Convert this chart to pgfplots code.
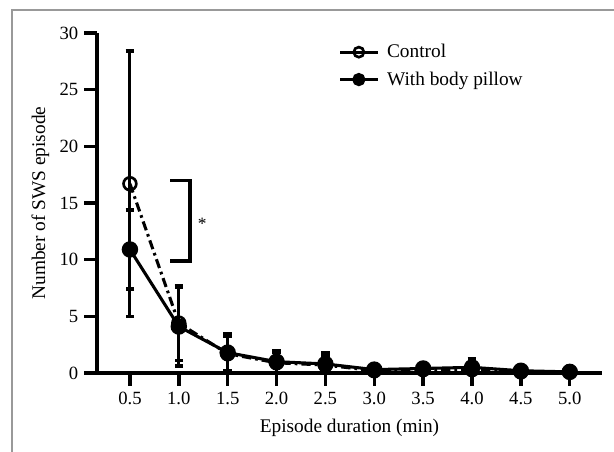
\documentclass[border=0pt]{standalone}
\usepackage{pgfplots}
\pgfplotsset{compat=1.18}
\usepackage{pgfplotstable}
\usepackage{fontspec}
\setmainfont{Liberation Serif}
\pgfplotstableread{
x y ep em
0.5 16.7 11.7 11.7
1.0 4.4 3.3 3.3
1.5 1.7 1.5 1.5
2.0 0.9 0.9 0.9
2.5 0.7 0.8 0.7
3.0 0.2 0.2 0.2
3.5 0.3 0.3 0.3
4.0 0.3 0.4 0.3
4.5 0.1 0.1 0.1
5.0 0.1 0.1 0.1
}\control
\pgfplotstableread{
x y ep em
0.5 10.9 3.5 3.5
1.0 4.1 3.5 3.5
1.5 1.8 1.7 1.7
2.0 1.0 1.0 1.0
2.5 0.8 1.0 0.8
3.0 0.3 0.3 0.3
3.5 0.4 0.3 0.4
4.0 0.5 0.8 0.5
4.5 0.2 0.1 0.2
5.0 0.1 0.1 0.1
}\pillow
\begin{document}
\begin{tikzpicture}
\useasboundingbox (-72.75pt,-58.5pt) rectangle (387.75pt,279.75pt);
\draw[gray!80, line width=1pt] (-63.75pt,-60pt) -- (-63.75pt,272.25pt) -- (390pt,272.25pt);
\begin{axis}[
  at={(0pt,0pt)}, anchor=south west,
  scale only axis, width=378.75pt, height=255pt,
  xmin=0.163, xmax=5.33, ymin=0, ymax=30,
  axis lines*=left,
  axis line style={line width=2.8pt, black},
  xtick={0.5,1,1.5,2,2.5,3,3.5,4,4.5,5},
  ytick={0,5,10,15,20,25,30},
  xticklabel style={yshift=-1pt, /pgf/number format/.cd, fixed, fixed zerofill, precision=1},
  /pgf/number format/assume math mode=true,
  tick align=outside, major tick length=9.5pt,
  tick style={line width=2.6pt, black},
  tick label style={font=\fontsize{14}{16}\selectfont},
  label style={font=\fontsize{14.5}{16}\selectfont},
  yticklabel style={xshift=-1pt},
  xlabel={Episode duration (min)},
  ylabel={Number of SWS episode},
  xlabel style={yshift=-4pt},
  ylabel style={yshift=1pt},
  clip=false,
  legend style={at={(0.478,0.975)}, anchor=north west, draw=none, fill=none,
    font=\fontsize{14.5}{16}\selectfont, row sep=5pt, inner sep=0pt},
  legend cell align=left,
  legend image code/.code={\draw[mark repeat=2,mark phase=2,#1,solid,mark size=3.8pt] plot coordinates {(0pt,0pt) (14pt,0pt) (28pt,0pt)};},
]
\addplot[black, line width=2.3pt, dash pattern=on 7pt off 3pt on 2pt off 3pt,
  mark=o, mark size=4.8pt, mark options={solid, fill=white, line width=2pt},
  error bars/.cd, y dir=both, y explicit,
  error bar style={line width=2.3pt, solid},
  error mark options={rotate=90, mark size=3.2pt, line width=2.6pt, solid}]
  table[x=x, y=y, y error plus=ep, y error minus=em]{\control};
\addlegendentry{\hspace{4pt}Control}
\addplot[black, line width=2.3pt, solid,
  mark=*, mark size=5pt, mark options={solid, fill=black},
  error bars/.cd, y dir=both, y explicit,
  error bar style={line width=2.3pt, solid},
  error mark options={rotate=90, mark size=3.2pt, line width=2.6pt, solid}]
  table[x=x, y=y, y error plus=ep, y error minus=em]{\pillow};
\addlegendentry{\hspace{4pt}With body pillow}
\draw[line width=2.6pt, black] (axis cs:0.91,17) -- (axis cs:1.115,17) -- (axis cs:1.115,9.9) -- (axis cs:0.91,9.9);
\node[font=\fontsize{13}{14}\selectfont] at (axis cs:1.24,13.2) {*};
\end{axis}
\end{tikzpicture}
\end{document}
